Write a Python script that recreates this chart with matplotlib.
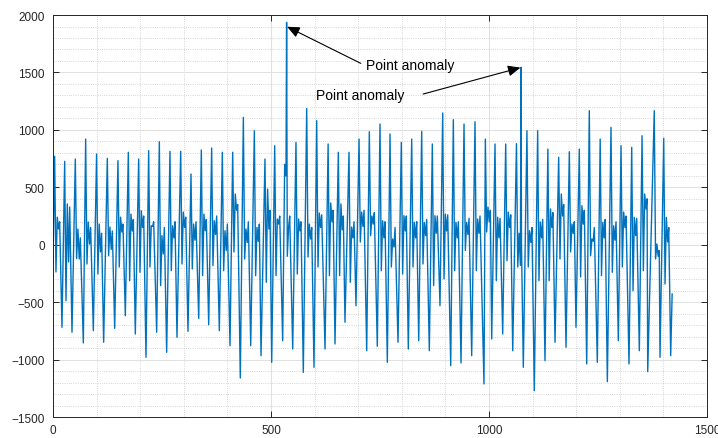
import matplotlib
matplotlib.use("Agg")
import matplotlib.pyplot as plt
from matplotlib.ticker import MultipleLocator

plt.rcParams['font.family'] = ['Liberation Sans', 'DejaVu Sans']

# --- data: one entry per cycle ---
peak_x = [3.8, 26.8, 51.2, 74.9, 100.0, 124.6, 149.0, 172.8, 196.5, 219.4,
          243.9, 268.3, 292.9, 316.5, 340.2, 363.9, 388.4, 412.1, 436.6, 461.8,
          486.2, 508.5, 531.4, 557.3, 581.9, 604.8, 631.0, 654.4, 678.9, 701.9,
          725.5, 750.0, 773.0, 798.9, 822.7, 845.6, 870.0, 893.8, 918.2, 942.7,
          967.9, 991.6, 1013.8, 1038.3, 1063.0, 1087.0, 1111.6, 1135.0, 1159.8, 1184.2,
          1207.1, 1230.0, 1255.0, 1279.8, 1302.8, 1327.3, 1351.0, 1379.0, 1400.7]
peak_y = [770, 726, 746, 920, 790, 752, 732, 805, 746, 819,
          897, 813, 813, 616, 825, 842, 805, 805, 1109, 993,
          746, 862, 700, 891, 1185, 1080, 877, 805, 805, 920,
          984, 1051, 964, 891, 920, 987, 877, 1147, 1089, 1051,
          1071, 920, 877, 877, 880, 993, 993, 833, 761, 810,
          833, 1167, 920, 1022, 862, 848, 949, 1167, 926]
dip_y = [-237, -487, -120, -168, -255, -95, -194, -313, -240, -194,
         -356, -226, -168, -211, -269, -182, -226, -63, -124, -269,
         -327, -269, 600, -255, -107, -194, -269, -269, -327, 24,
         79, -226, -194, -255, -194, -168, -356, -298, -226, -50,
         -226, 111, -313, -139, -194, -194, -313, -313, -124, -63,
         -281, -95, -269, -240, -194, -400, -226, -124, -342]
bump_y = [240, 355, 137, 198, 180, 154, 240, 267, 296, 165,
          79, 165, 284, 180, 267, 209, 122, 442, 137, 151,
          485, 224, -100, 224, 180, 276, 363, 355, 154, 284,
          250, 209, 50, 253, 195, 195, 253, 267, 195, 195,
          224, 328, 240, 284, 100, 122, 198, 311, 442, 180,
          340, 50, 195, 165, 284, 238, 442, 6, 238]
shoulder_y = [137, -150, -124, 6, -63, -40, 111, 120, 150, 160,
              -80, 60, 150, 40, 122, 90, -50, 300, 20, 30,
              137, 180, 154, 120, 50, 150, 200, 130, 60, 160,
              180, 60, -20, 120, 60, 80, 100, 120, 60, 90,
              100, 200, 60, 150, -180, 20, 60, 150, 250, 100,
              180, 30, 60, 40, 150, 80, 311, -100, 24]
bump2_y = [200, 328, 60, 150, 100, 120, 180, 220, 250, 200,
           150, 200, 240, 200, 220, 250, 180, 350, 200, 180,
           300, 250, 250, 200, 150, 260, 300, 250, 200, 300,
           280, 200, 150, 250, 200, 220, 250, 260, 200, 230,
           250, 300, 230, 260, 0, 150, 220, 280, 350, 200,
           300, 150, 220, 200, 250, 230, 400, -50, 150]
trough_x = [20.6, 43.6, 69.6, 92.5, 116.2, 141.5, 165.9, 188.8, 213.3, 237.8,
            260.7, 284.4, 309.6, 334.2, 357.1, 381.5, 406.0, 429.6, 453.5, 477.1,
            501.6, 526.8, 549.8, 574.1, 598.6, 623.9, 646.8, 669.7, 694.9, 719.5,
            743.8, 766.8, 791.3, 814.9, 838.8, 863.1, 887.6, 912.2, 935.8, 960.3,
            988.5, 1006.2, 1031.4, 1054.4, 1078.7, 1103.9, 1128.4, 1151.4, 1176.6, 1199.5,
            1224.1, 1248.4, 1271.4, 1296.6, 1321.1, 1344.8, 1364.0, 1392.2, 1416.7]
trough_y = [-719, -762, -855, -748, -849, -728, -618, -777, -980, -762,
            -937, -806, -754, -641, -696, -748, -879, -1160, -879, -966,
            -1024, -836, -908, -1111, -1067, -908, -864, -675, -531, -923,
            -884, -1024, -849, -908, -836, -923, -531, -1053, -1030, -966,
            -1212, -821, -777, -923, -1067, -1271, -1009, -849, -893, -719,
            -1038, -1024, -1192, -836, -1038, -923, -1105, -980, -966]
start_pt = (0, -168)
end_pt = (1420, -429)
anomaly_x = [535.8, 1073.4]
anomaly_y = [1936, 1545]

# --- assemble the line vertices ---
pts = [start_pt, end_pt]
for i in range(len(peak_x)):
    p = peak_x[i]
    pts += [(p, peak_y[i]), (p + 3, dip_y[i]), (p + 6, bump_y[i]),
            (p + 9, shoulder_y[i]), (p + 11.5, bump2_y[i]),
            (trough_x[i], trough_y[i])]
pts += list(zip(anomaly_x, anomaly_y))
pts.sort()
xs = [q[0] for q in pts]
ys = [q[1] for q in pts]

fig = plt.figure(figsize=(7.18, 4.39), dpi=100)
ax = fig.add_axes([0.0738, 0.0478, 0.9109, 0.9157])
ax.plot(xs, ys, color='#0072BD', lw=1.0)

ax.set_xlim(0, 1500)
ax.set_ylim(-1500, 2000)
ax.xaxis.set_major_locator(MultipleLocator(500))
ax.yaxis.set_major_locator(MultipleLocator(500))
ax.xaxis.set_minor_locator(MultipleLocator(100))
ax.yaxis.set_minor_locator(MultipleLocator(100))
ax.grid(which='major', color='#e0e0e0', lw=0.7, ls='-')
ax.grid(which='minor', color='#c8c8c8', lw=0.6, ls=':')
ax.set_axisbelow(True)
ax.tick_params(which='major', direction='in', length=4, width=0.7, top=True, right=True,
               colors='#262626', labelsize=8.5)
ax.tick_params(axis='x', pad=5)
ax.tick_params(axis='y', pad=6)
ax.tick_params(which='minor', length=0)
for s in ax.spines.values():
    s.set_color('#262626')
    s.set_linewidth(0.7)

# annotations
arrow = dict(arrowstyle='-|>,head_length=0.5,head_width=0.22', color='black', lw=0.8,
             mutation_scale=15, shrinkA=0, shrinkB=0)
ax.annotate('', xy=(537, 1898), xytext=(706, 1579), arrowprops=arrow)
ax.text(718, 1567, 'Point anomaly', fontsize=10, ha='left', va='center')
ax.annotate('', xy=(1072, 1542), xytext=(849, 1312), arrowprops=arrow)
ax.text(603, 1303, 'Point anomaly', fontsize=10, ha='left', va='center')

fig.savefig('out.png', dpi=100)
